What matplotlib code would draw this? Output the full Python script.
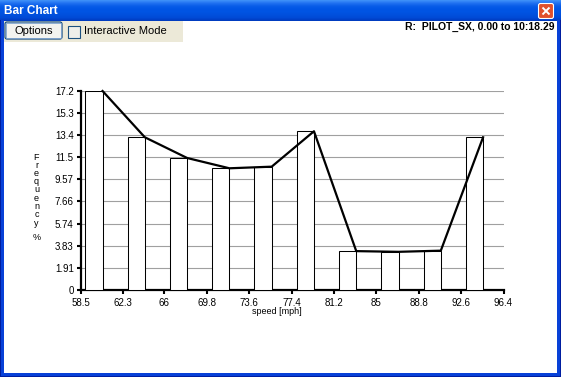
import matplotlib.pyplot as plt
from matplotlib.patches import Rectangle, FancyBboxPatch
import numpy as np

# data
x_ticks = [58.5, 62.3, 66, 69.8, 73.6, 77.4, 81.2, 85, 88.8, 92.6, 96.4]
y_ticks = [0, 1.91, 3.83, 5.74, 7.66, 9.57, 11.5, 13.4, 15.3, 17.2]
bin_starts = [58.5, 62.29, 66.08, 69.87, 73.66, 77.45, 81.24, 85.03, 88.82, 92.61]
freq = [17.2, 13.2, 11.41, 10.52, 10.66, 13.72, 3.36, 3.30, 3.40, 13.2]

W, H = 561, 377
plt.rcParams['font.family'] = ['Liberation Sans', 'DejaVu Sans']
fig = plt.figure(figsize=(W / 100, H / 100), dpi=100)

# window chrome, drawn in pixel coordinates
bg = fig.add_axes([0, 0, 1, 1], zorder=-1)
bg.set_xlim(0, W)
bg.set_ylim(H, 0)
bg.axis('off')

stops = np.array([[0x3d, 0x8f, 0xf8], [0x1f, 0x6f, 0xf0], [0x08, 0x5c, 0xe8], [0x00, 0x55, 0xe5],
                  [0x00, 0x54, 0xe3], [0x00, 0x50, 0xdd], [0x00, 0x4a, 0xd6], [0x00, 0x3c, 0xc0]]) / 255
t = np.linspace(0, 1, 21)
grad = np.stack([np.interp(t, np.linspace(0, 1, len(stops)), stops[:, k]) for k in range(3)], axis=1)
bg.imshow(grad[:, None, :].repeat(2, axis=1), extent=[0, W, 21, 0], aspect='auto', interpolation='bilinear')

# blue frame
bg.add_patch(Rectangle((0, 20), 4, H - 20, color='#0841d8', lw=0))
bg.add_patch(Rectangle((W - 4, 20), 4, H - 20, color='#0841d8', lw=0))
bg.add_patch(Rectangle((0, H - 4), W, 4, color='#0841d8', lw=0))
bg.add_patch(Rectangle((0, 20), 1, H - 20, color='#001ea0', lw=0))
bg.add_patch(Rectangle((W - 1, 20), 1, H - 20, color='#001ea0', lw=0))
bg.add_patch(Rectangle((0, H - 1), W, 1, color='#001ea0', lw=0))
bg.add_patch(Rectangle((4, 21), W - 8, H - 25, color='white', lw=0))

bg.text(4, 11, 'Bar Chart', color='white', fontsize=8.5, fontweight='bold', va='center', ha='left')

# close button
bg.add_patch(FancyBboxPatch((539, 4), 14, 14, boxstyle='round,pad=0.5,rounding_size=2',
                            fc='#e0502c', ec='white', lw=0.8))
bg.plot([542.5, 549.5], [7.5, 14.5], color='white', lw=1.4, solid_capstyle='butt')
bg.plot([542.5, 549.5], [14.5, 7.5], color='white', lw=1.4, solid_capstyle='butt')

# toolbar
bg.add_patch(Rectangle((4, 21), 179, 21, color='#ece9d8', lw=0))
bg.add_patch(FancyBboxPatch((5, 22), 57, 17, boxstyle='round,pad=0,rounding_size=2',
                            fc='#f3f3ef', ec='#003c74', lw=0.8))
bg.add_patch(Rectangle((6, 23), 55, 15, fc='none', ec='#7da2ce', lw=0.6))
bg.text(33.5, 31, 'Options', fontsize=8, ha='center', va='center')
bg.add_patch(Rectangle((68, 25.5), 12, 12, fc='#eeeeea', ec='#1c5180', lw=0.8))
bg.text(84, 31.5, 'Interactive Mode', fontsize=8, ha='left', va='center')

bg.text(555, 27, 'R:  PILOT_SX, 0.00 to 10:18.29', fontsize=7.5, fontweight='bold', ha='right', va='center')

# stacked y label
for i, ch in enumerate('Frequency'):
    bg.text(36.5, 157 + i * 8.25, ch, fontsize=6.5, ha='center', va='center')
bg.text(36.5, 237, '%', fontsize=6.5, ha='center', va='center')

# chart
ax = fig.add_axes([80.7 / W, 1 - 290 / H, 422.8 / W, 199 / H])
ax.set_facecolor('none')
bar_w = 1.55
offset = 0.41
lefts = np.array(bin_starts) + offset
ax.bar(lefts, freq, width=bar_w, align='edge', facecolor='white', edgecolor='black', linewidth=0.75, zorder=3)
ax.plot(lefts + bar_w, freq, color='black', lw=1.6, zorder=4, clip_on=False)

ax.set_xlim(58.5, 96.4)
ax.set_ylim(0, 17.2)
ax.set_xticks(x_ticks)
ax.set_xticklabels([f'{v:g}' for v in x_ticks])
ax.set_yticks(y_ticks)
ax.set_yticklabels([f'{v:g}' for v in y_ticks])
ax.grid(axis='y', color='#a0a0a0', lw=0.8, zorder=0)
ax.tick_params(labelsize=7, length=3, width=1.5, pad=2)
ax.tick_params(axis='x', pad=3)
for s in ['top', 'right']:
    ax.spines[s].set_visible(False)
for s in ['left', 'bottom']:
    ax.spines[s].set_linewidth(1.6)
ax.set_xlabel('speed [mph]', fontsize=6.5)
ax.xaxis.set_label_coords((277 - 80.7) / 422.8, -(312 - 290) / 199)
ax.xaxis.label.set_va('center')

fig.savefig('out.png', dpi=100)
